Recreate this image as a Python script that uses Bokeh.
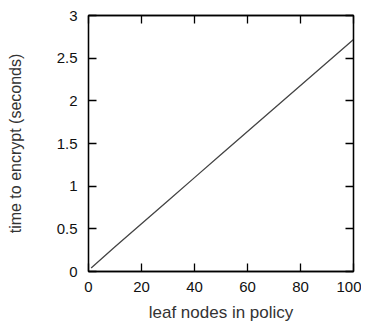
from bokeh.plotting import figure
from bokeh.models import FixedTicker, LinearAxis, Range1d
from bokeh.embed import file_html
from bokeh.resources import INLINE

leaf_nodes = [1, 10, 20, 30, 40, 50, 60, 70, 80, 90, 100]
encrypt_time = [0.04, 0.29, 0.56, 0.83, 1.10, 1.37, 1.64, 1.91, 2.18, 2.45, 2.72]
x_ticks = [0, 20, 40, 60, 80, 100]
y_ticks = [0, 0.5, 1, 1.5, 2, 2.5, 3]
y_tick_labels = ["0", "0.5", "1", "1.5", "2", "2.5", "3"]

FONT = "Liberation Sans"

p = figure(frame_width=265, frame_height=256, output_backend="svg", toolbar_location=None,
           x_range=Range1d(0, 100), y_range=Range1d(0, 3),
           min_border_left=88, min_border_top=15, min_border_right=8, min_border_bottom=45)
p.grid.visible = False
p.outline_line_color = "black"
p.outline_line_width = 1.3
p.background_fill_color = "white"

p.line(leaf_nodes, encrypt_time, line_color="#444444", line_width=1.3)

def style(ax):
    ax.major_tick_in = 8
    ax.major_tick_out = 0
    ax.minor_tick_line_color = None
    ax.axis_line_color = "black"
    ax.axis_line_width = 1.3
    ax.major_tick_line_color = "black"
    ax.major_tick_line_width = 1.3
    ax.major_label_text_font = FONT
    ax.major_label_text_font_size = "15px"
    ax.major_label_text_color = "#111111"
    ax.axis_label_text_font = FONT
    ax.axis_label_text_font_size = "16px"
    ax.axis_label_text_font_style = "normal"
    ax.axis_label_text_color = "#333333"

xa = p.xaxis[0]
ya = p.yaxis[0]
xa.ticker = FixedTicker(ticks=x_ticks)
ya.ticker = FixedTicker(ticks=y_ticks)
ya.major_label_overrides = {t: l for t, l in zip(y_ticks, y_tick_labels)}
style(xa)
style(ya)
xa.axis_label = "leaf nodes in policy"
ya.axis_label = "time to encrypt (seconds)"
xa.axis_label_text_font_size = "17px"
xa.major_label_standoff = 10
ya.major_label_standoff = 11
xa.axis_label_standoff = 8
ya.axis_label_standoff = 30

top = LinearAxis(ticker=FixedTicker(ticks=x_ticks))
right = LinearAxis(ticker=FixedTicker(ticks=y_ticks))
style(top)
style(right)
top.major_label_overrides = {t: "" for t in x_ticks}
right.major_label_overrides = {t: "" for t in y_ticks}
top.major_label_standoff = 0
right.major_label_standoff = 0
p.add_layout(top, "above")
p.add_layout(right, "right")

open("out.html", "w").write(file_html(p, INLINE))
